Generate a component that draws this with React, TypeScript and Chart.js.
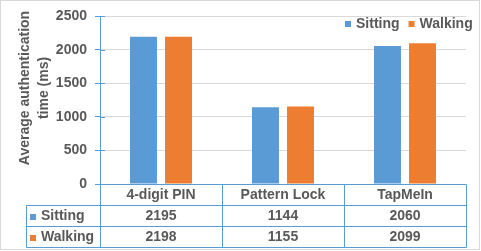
import React, { useEffect, useRef } from 'react';
import { Chart, registerables } from 'chart.js';

Chart.register(...registerables);

const categories = ['4-digit PIN', 'Pattern Lock', 'TapMeIn'];
const seriesNames = ['Sitting', 'Walking'];
const sitting = [2195, 1144, 2060];
const walking = [2198, 1155, 2099];
const yTitle = ['Average authentication', 'time (ms)'];
const yMin = 0;
const yMax = 2500;
const yStep = 500;

const BLUE = '#5B9BD5';
const ORANGE = '#ED7D31';
const TEXT = '#595959';
const GRID = '#D9D9D9';
const FAMILY = '"Liberation Sans", Arial, sans-serif';
const FONT = `bold 14px ${FAMILY}`;

const tablePlugin = {
  id: 'tablePlugin',
  afterDraw(chart: any) {
    const ctx = chart.ctx as CanvasRenderingContext2D;
    const area = chart.chartArea;
    const xs = chart.scales.x;
    const ys = chart.scales.y;
    const W = chart.width;
    const H = chart.height;
    const colors = [BLUE, ORANGE];
    const series = [sitting, walking];
    const px = (v: number) => Math.round(v) + 0.5;

    ctx.save();
    // outer border
    ctx.strokeStyle = GRID;
    ctx.lineWidth = 1;
    ctx.strokeRect(0.5, 0.5, W - 2, H - 2);

    // tick mark extensions into plot area
    ctx.strokeStyle = BLUE;
    ctx.beginPath();
    ys.ticks.forEach((t: any) => {
      const y = px(ys.getPixelForValue(t.value));
      ctx.moveTo(area.left, y);
      ctx.lineTo(area.left + 5, y);
    });
    ctx.stroke();

    // table geometry
    const rowH = 21;
    const top = Math.round(ys.getPixelForValue(yMin));
    const left = area.left;
    const right = area.right;
    const labelLeft = 26;
    const bounds: number[] = [left];
    for (let i = 0; i < categories.length - 1; i++) {
      bounds.push((xs.getPixelForValue(i) + xs.getPixelForValue(i + 1)) / 2);
    }
    bounds.push(right);
    const bottom = top + rowH * 3;

    ctx.strokeStyle = BLUE;
    ctx.beginPath();
    ctx.moveTo(px(left), px(top));
    ctx.lineTo(px(right), px(top));
    for (let r = 1; r <= 3; r++) {
      ctx.moveTo(px(labelLeft), px(top + rowH * r));
      ctx.lineTo(px(right), px(top + rowH * r));
    }
    bounds.forEach((b) => {
      ctx.moveTo(px(b), px(top));
      ctx.lineTo(px(b), px(bottom));
    });
    ctx.moveTo(px(labelLeft), px(top + rowH));
    ctx.lineTo(px(labelLeft), px(bottom));
    ctx.stroke();

    ctx.font = FONT;
    ctx.fillStyle = TEXT;
    ctx.textBaseline = 'middle';
    ctx.textAlign = 'center';
    categories.forEach((c, i) => {
      ctx.fillText(c, xs.getPixelForValue(i), top + rowH / 2 + 1);
    });
    seriesNames.forEach((name, s) => {
      const cy = top + rowH * (s + 1) + rowH / 2 + 1;
      ctx.fillStyle = colors[s];
      ctx.fillRect(30, Math.round(cy) - 3, 6, 6);
      ctx.fillStyle = TEXT;
      ctx.textAlign = 'left';
      ctx.fillText(name, 41, cy);
      ctx.textAlign = 'center';
      series[s].forEach((v, i) => {
        ctx.fillText(String(v), xs.getPixelForValue(i), cy);
      });
    });

    // legend
    let lx = 345;
    const ly = 24;
    seriesNames.forEach((name, s) => {
      ctx.fillStyle = colors[s];
      ctx.fillRect(lx, ly - 3, 6, 6);
      lx += 11;
      ctx.fillStyle = TEXT;
      ctx.textAlign = 'left';
      ctx.fillText(name, lx, ly);
      lx += ctx.measureText(name).width + 9;
    });

    // y axis title
    ctx.save();
    ctx.translate(25, 88);
    ctx.rotate(-Math.PI / 2);
    ctx.textAlign = 'center';
    ctx.fillStyle = TEXT;
    yTitle.forEach((line, i) => {
      ctx.fillText(line, 0, i * 19);
    });
    ctx.restore();

    ctx.restore();
  },
};

export default function App() {
  const ref = useRef<HTMLCanvasElement | null>(null);
  useEffect(() => {
    document.body.style.margin = '0';
    const canvas = ref.current!;
    const chart = new Chart(canvas, {
      type: 'bar',
      data: {
        labels: categories,
        datasets: [
          {
            label: seriesNames[0],
            data: sitting,
            backgroundColor: BLUE,
            categoryPercentage: 0.574,
            barPercentage: 0.77,
          },
          {
            label: seriesNames[1],
            data: walking,
            backgroundColor: ORANGE,
            categoryPercentage: 0.574,
            barPercentage: 0.77,
          },
        ],
      },
      options: {
        animation: false,
        responsive: false,
        devicePixelRatio: 1,
        layout: { padding: { left: 0, top: 15, right: 15, bottom: 67 } },
        plugins: {
          legend: { display: false },
          tooltip: { enabled: false },
        },
        scales: {
          x: {
            display: false,
            offset: true,
          },
          y: {
            min: yMin,
            max: yMax,
            ticks: {
              stepSize: yStep,
              color: TEXT,
              font: { family: FAMILY, size: 14, weight: 'bold' },
              padding: 8,
              callback: (v: any) => String(v),
            },
            grid: {
              color: GRID,
              tickColor: BLUE,
              tickLength: 5,
              drawTicks: true,
            },
            border: { color: BLUE, width: 1 },
            afterFit: (scale: any) => {
              scale.width = 100;
            },
          },
        },
      },
      plugins: [tablePlugin],
    } as any);
    return () => chart.destroy();
  }, []);
  return (
    <div style={{ width: 481, height: 251 }}>
      <canvas ref={ref} width={481} height={251} style={{ width: 481, height: 251, display: 'block' }} />
    </div>
  );
}
